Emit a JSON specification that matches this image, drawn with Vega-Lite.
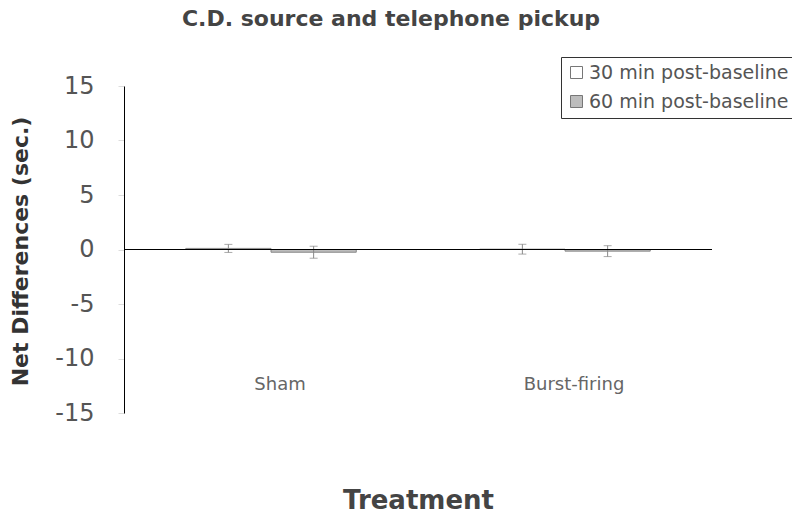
{
  "$schema": "https://vega.github.io/schema/vega-lite/v6.json",
  "autosize": {"type": "none"},
  "width": 588,
  "height": 327,
  "padding": {"left": 124, "top": 86, "right": 80, "bottom": 102},
  "background": "white",
  "config": {"view": {"stroke": null}, "font": "DejaVu Sans"},
  "title": {
    "text": "C.D. source and telephone pickup",
    "fontSize": 22,
    "fontWeight": "bold",
    "color": "#444",
    "anchor": "middle",
    "dx": -27,
    "offset": 26
  },
  "datasets": {
    "means": [
      {"treatment": "Sham", "time": "30 min post-baseline", "value": 0.1, "lo": -0.27, "hi": 0.47},
      {"treatment": "Sham", "time": "60 min post-baseline", "value": -0.25, "lo": -0.8, "hi": 0.3},
      {"treatment": "Burst-firing", "time": "30 min post-baseline", "value": 0.03, "lo": -0.42, "hi": 0.48},
      {"treatment": "Burst-firing", "time": "60 min post-baseline", "value": -0.15, "lo": -0.65, "hi": 0.35}
    ]
  },
  "layer": [
    {
      "data": {"name": "means"},
      "mark": {"type": "bar", "stroke": "#888", "strokeWidth": 1},
      "encoding": {
        "x": {
          "field": "treatment", "type": "nominal", "sort": ["Sham", "Burst-firing"],
          "scale": {"paddingInner": 0.42, "paddingOuter": 0.21},
          "axis": {
            "orient": "bottom", "offset": -38, "domain": false, "ticks": false,
            "labelAngle": 0, "labelFontSize": 18, "labelColor": "#666",
            "labelPadding": 0, "labelBaseline": "top", "labelOffset": 9,
            "title": "Treatment", "titleFontSize": 26, "titleFontWeight": "bold",
            "titleColor": "#444", "titleY": 125, "titleBaseline": "middle"
          }
        },
        "xOffset": {"field": "time", "type": "nominal"},
        "y": {
          "field": "value", "type": "quantitative",
          "scale": {"domain": [-15, 15], "nice": false},
          "axis": {
            "values": [-15, -10, -5, 0, 5, 10, 15], "grid": false,
            "labelExpr": "replace(datum.label, '\u2212', '-')",
            "domainColor": "black", "tickColor": "#ddd", "tickSize": 6,
            "labelFontSize": 24, "labelColor": "#555", "labelPadding": 24,
            "title": "Net Differences (sec.)", "titleFontSize": 22,
            "titleFontWeight": "bold", "titleColor": "#333",
            "titleX": -104, "titleY": 165, "titleBaseline": "middle"
          }
        },
        "fill": {
          "field": "time", "type": "nominal",
          "scale": {"domain": ["30 min post-baseline", "60 min post-baseline"], "range": ["#ffffff", "#bdbdbd"]},
          "legend": {
            "orient": "none", "legendX": 437, "legendY": -29, "title": null,
            "symbolType": "square", "symbolSize": 144, "symbolStrokeColor": "#777",
            "symbolStrokeWidth": 1, "labelFontSize": 19, "labelColor": "#555",
            "labelLimit": 300, "rowPadding": 9, "padding": 6,
            "strokeColor": "#333", "fillColor": "white", "labelOffset": 3
          }
        }
      }
    },
    {
      "data": {"name": "means"},
      "mark": {"type": "rule", "color": "#888", "strokeWidth": 1},
      "encoding": {
        "x": {"field": "treatment", "type": "nominal", "sort": ["Sham", "Burst-firing"]},
        "xOffset": {"field": "time", "type": "nominal"},
        "y": {"field": "lo", "type": "quantitative"},
        "y2": {"field": "hi"}
      }
    },
    {
      "data": {"name": "means"},
      "mark": {"type": "tick", "color": "#888", "size": 8, "thickness": 1, "orient": "horizontal"},
      "encoding": {
        "x": {"field": "treatment", "type": "nominal", "sort": ["Sham", "Burst-firing"]},
        "xOffset": {"field": "time", "type": "nominal"},
        "y": {"field": "lo", "type": "quantitative"}
      }
    },
    {
      "data": {"name": "means"},
      "mark": {"type": "tick", "color": "#888", "size": 8, "thickness": 1, "orient": "horizontal"},
      "encoding": {
        "x": {"field": "treatment", "type": "nominal", "sort": ["Sham", "Burst-firing"]},
        "xOffset": {"field": "time", "type": "nominal"},
        "y": {"field": "hi", "type": "quantitative"}
      }
    },
    {
      "data": {"values": [{"zero": 0}]},
      "mark": {"type": "rule", "color": "black", "strokeWidth": 1.2},
      "encoding": {"y": {"field": "zero", "type": "quantitative"}}
    }
  ]
}
